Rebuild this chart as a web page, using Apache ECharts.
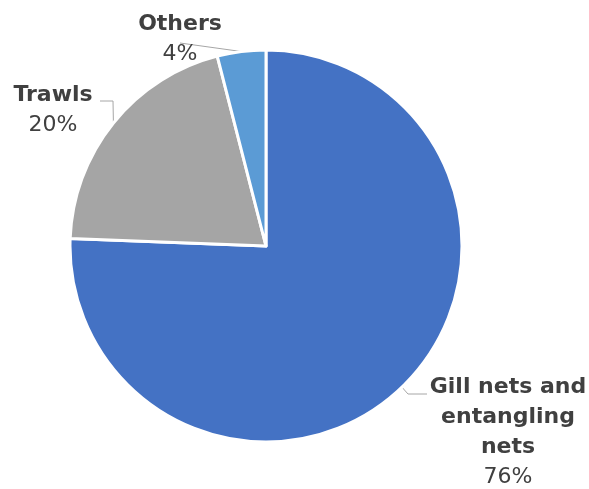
<!DOCTYPE html>
<html><head><meta charset="utf-8">
<script src="https://cdn.jsdelivr.net/npm/echarts@6/dist/echarts.min.js"></script>
<style>html,body{margin:0;padding:0;background:#fff}#c{width:589px;height:489px}</style>
</head><body><div id="c"></div>
<script>
var categories = ['Gill nets and entangling nets', 'Trawls', 'Others'];
var labelText = ['Gill nets and\nentangling\nnets', 'Trawls', 'Others'];
var values = [75.6, 20.4, 4.0];
var colors = ['#4472C4', '#A5A5A5', '#5B9BD5'];

// label anchor (center x, top y) and elbow points
var labelPos = [
  {x: 508, y: 372, elbow: [[408, 394], [427, 394]]},
  {x: 53, y: 80, elbow: [[113, 101], [100, 101]]},
  {x: 180, y: 9, elbow: [[180, 43]]}
];

var chart = echarts.init(document.getElementById('c'));
chart.setOption({
  animation: false,
  series: [{
    type: 'pie',
    center: [266, 246],
    radius: [0, 196],
    startAngle: 90,
    clockwise: true,
    itemStyle: {borderColor: '#fff', borderWidth: 3},
    data: categories.map(function (n, i) {
      return {name: n, value: values[i], itemStyle: {color: colors[i]}};
    }),
    label: {
      show: true,
      position: 'outside',
      alignTo: 'none',
      overflow: 'none',
      edgeDistance: 0,
      align: 'center',
      formatter: function (p) {
        var lines = labelText[p.dataIndex].split('\n').map(function (l) { return '{b|' + l + '}'; });
        return lines.join('\n') + '\n{c|' + Math.round(p.percent) + '%}';
      },
      rich: {
        b: {fontFamily: 'DejaVu Sans', fontWeight: 'bold', fontSize: 22, color: '#404040', lineHeight: 30, align: 'center', overflow: 'none'},
        c: {fontFamily: 'DejaVu Sans', fontSize: 22, color: '#404040', lineHeight: 30, align: 'center', overflow: 'none'}
      }
    },
    labelLine: {show: true, lineStyle: {color: '#A6A6A6', width: 1}, length: 10, length2: 10},
    labelLayout: function (params) {
      var lp = labelPos[params.dataIndex];
      var start = params.labelLinePoints ? params.labelLinePoints[0] : null;
      var pts = start ? [start].concat(lp.elbow) : undefined;
      return {x: lp.x, y: lp.y, align: 'center', verticalAlign: 'top', labelLinePoints: pts};
    }
  }]
});
</script></body></html>
